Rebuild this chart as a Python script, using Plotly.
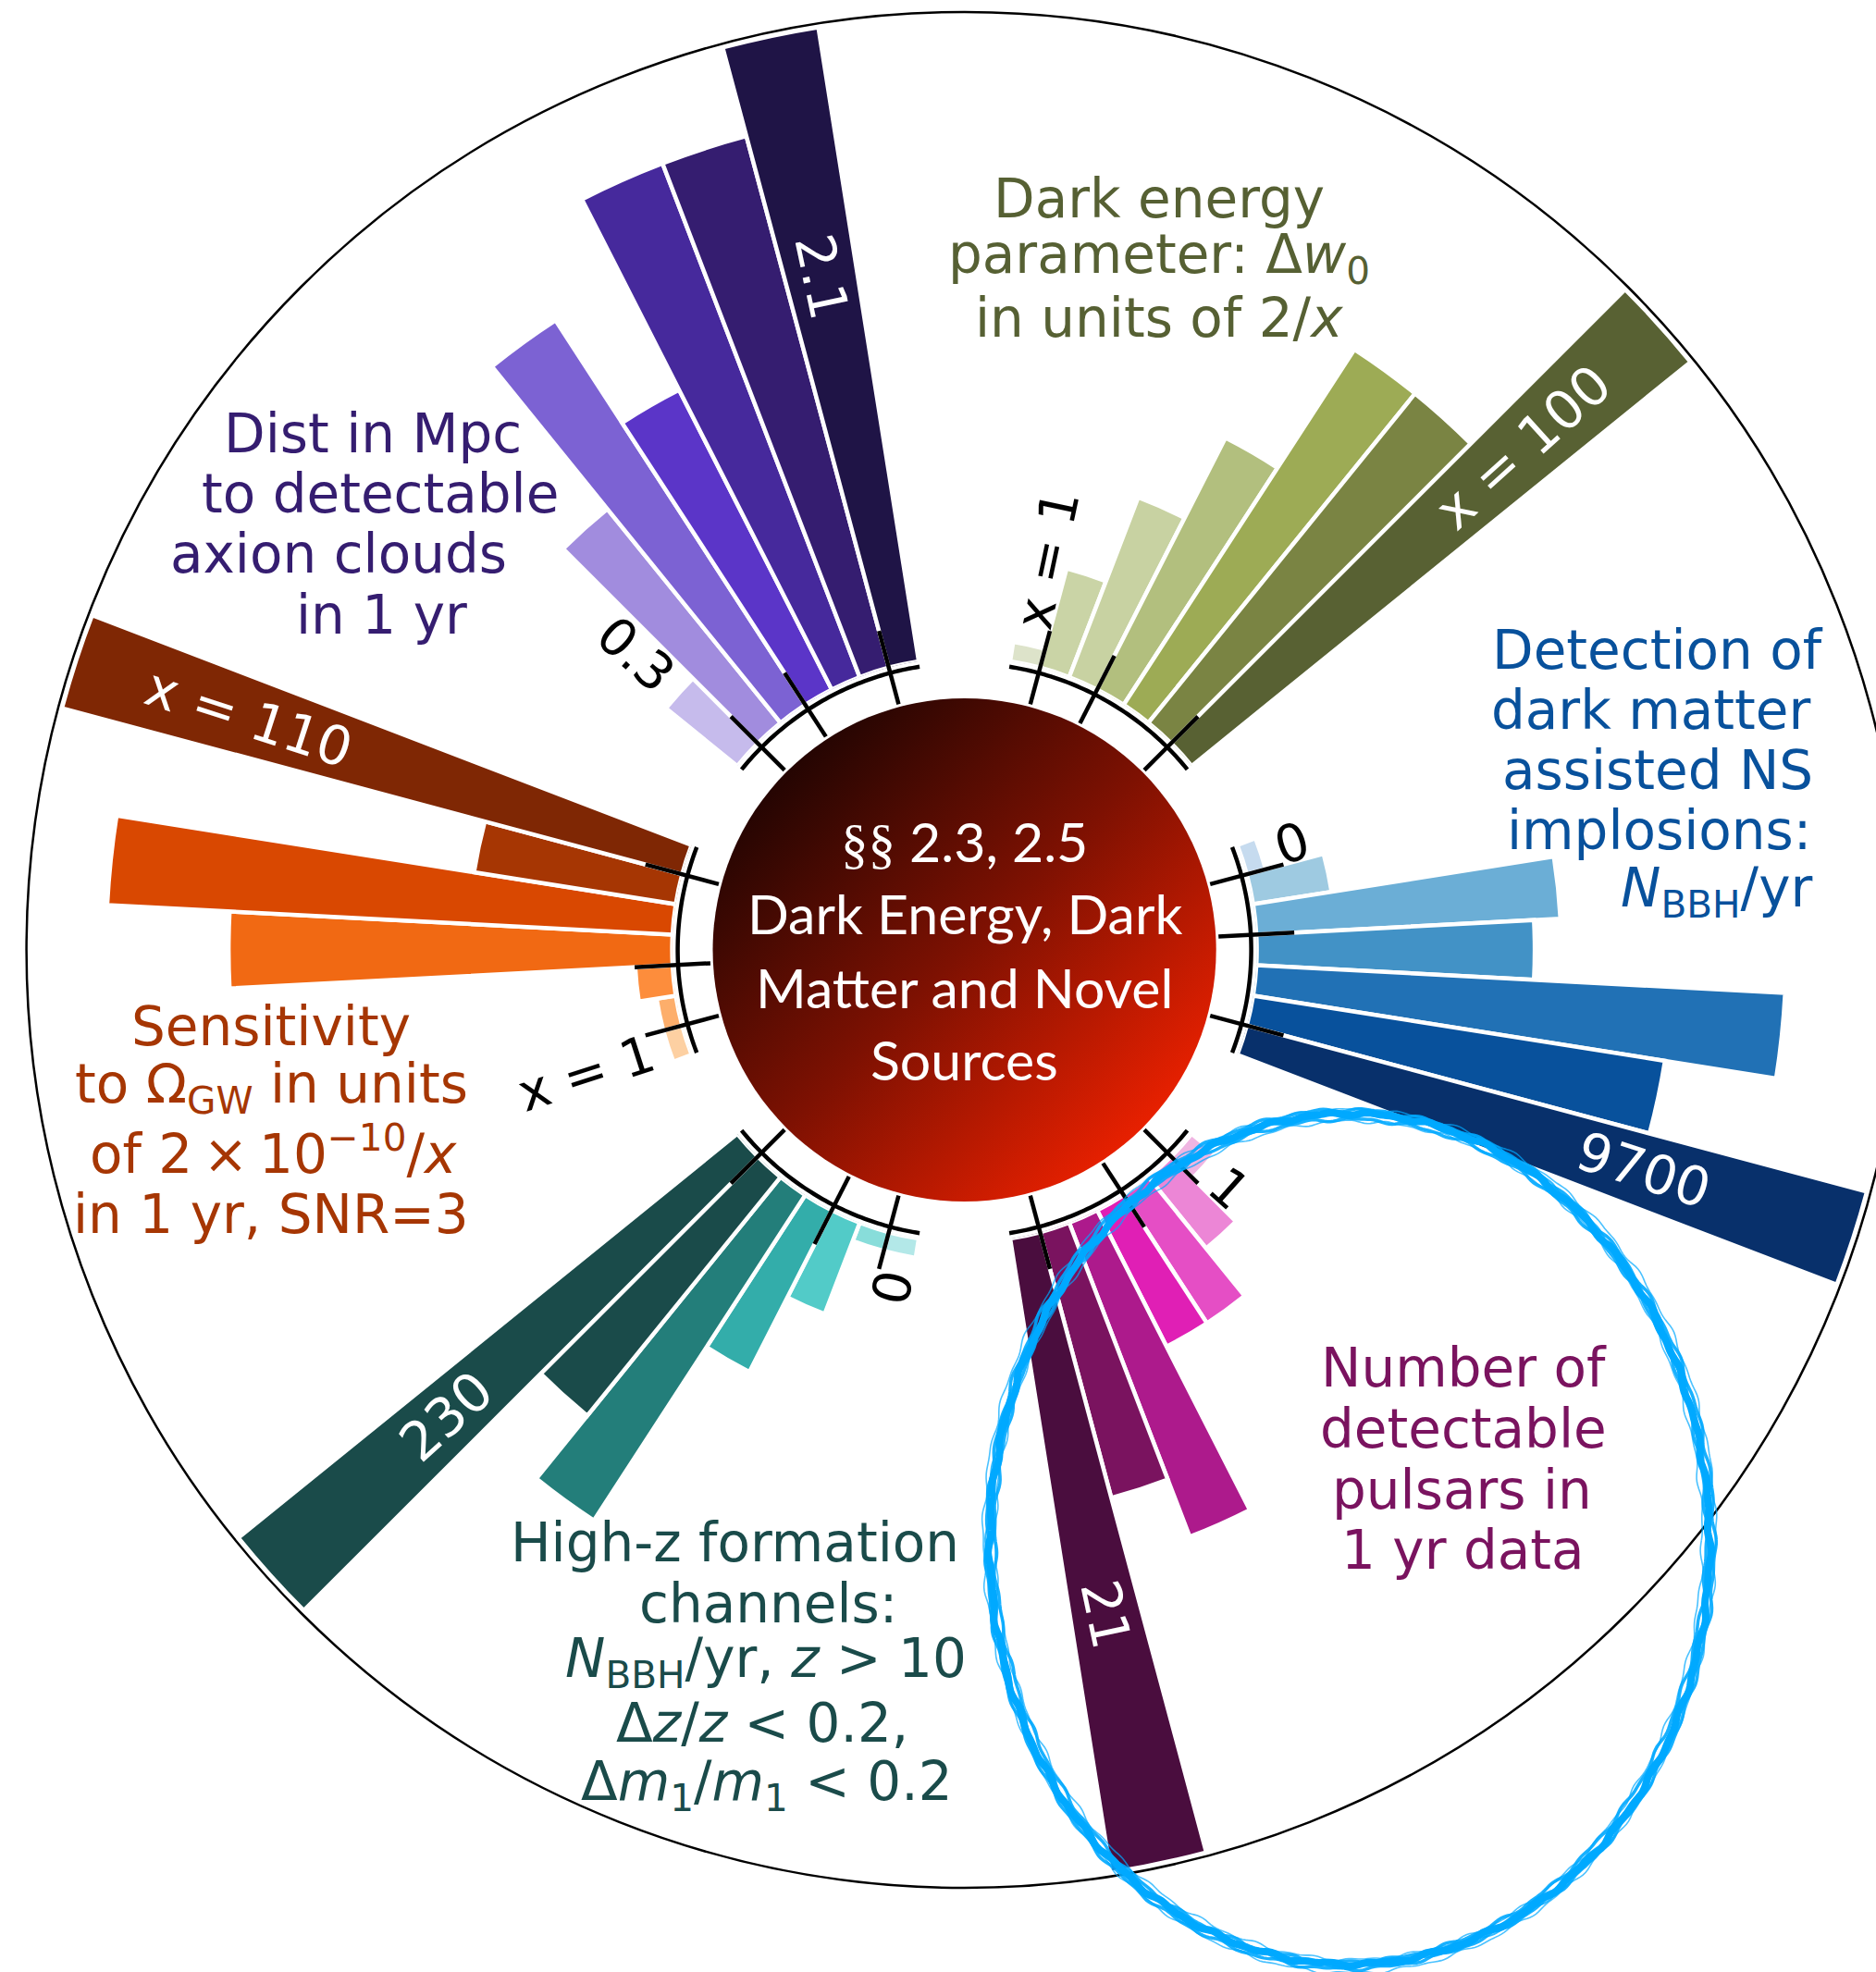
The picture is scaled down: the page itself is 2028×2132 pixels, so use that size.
import math
import base64
import numpy as np
import plotly.graph_objects as go

# ---------------------------------------------------------------------------
# Data: seven detector configurations per science case (weakest -> strongest)
# ---------------------------------------------------------------------------
ns_implosions_per_yr = [0, 1200, 4600, 4200, 8000, 6300, 9700]
dark_energy_x = [1, 16, 30, 44, 66, 66, 100]
axion_dist_mpc = [0.3, 0.9, 1.5, 1.1, 1.8, 1.8, 2.1]
omega_gw_x = [1, 2, 6.4, 76, 97, 35, 110]
highz_nbbh_per_yr = [0, 5, 35, 65, 139, 110, 230]
pulsars_1yr = [1, 3, 5, 5, 11, 9, 21]

sector_values = [ns_implosions_per_yr, dark_energy_x, axion_dist_mpc,
                 omega_gw_x, highz_nbbh_per_yr, pulsars_1yr]
sector_centres = [0, 60, 120, 180, 240, 300]
value_prefix = ["", "x = ", "", "x = ", "", ""]

sector_titles = [
    ["Detection of", "dark matter", "assisted NS", "implosions:",
     "<i>N</i><sub>BBH</sub>/yr"],
    ["Dark energy", "parameter: Δ<i>w</i><sub>0</sub>", "in units of 2/<i>x</i>"],
    ["Dist in Mpc", "to detectable", "axion clouds", "in 1 yr"],
    ["Sensitivity", "to Ω<sub>GW</sub> in units",
     "of 2\u2009×\u200910<sup>−10</sup>/<i>x</i>", "in 1 yr, SNR=3"],
    ["High-z formation", "channels:",
     "<i>N</i><sub>BBH</sub>/yr, <i>z</i> &gt; 10",
     "Δ<i>z</i>/<i>z</i> &lt; 0.2,",
     "Δ<i>m</i><sub>1</sub>/<i>m</i><sub>1</sub> &lt; 0.2"],
    ["Number of", "detectable", "pulsars in", "1 yr data"],
]
centre_lines = ['<span style="font-family:Liberation Serif">§§</span> 2.3, 2.5',
                "Dark Energy, Dark", "Matter and Novel", "Sources"]

# ---------------------------------------------------------------------------
# Styling
# ---------------------------------------------------------------------------
sector_colours = [
    ["#c6dbef", "#9ecae1", "#6baed6", "#4292c6", "#2171b5", "#08519c", "#08306b"],
    ["#dde3ca", "#cad4a6", "#c8d2a2", "#b2bf7e", "#9dab55", "#7a8443", "#586133"],
    ["#c6bbec", "#a18cde", "#7c62d3", "#5b35c8", "#46299c", "#351d70", "#1f1446"],
    ["#fdd0a2", "#fdae6b", "#fd8d3c", "#f16913", "#d94801", "#a63603", "#7f2704"],
    ["#b3e8e8", "#88ddda", "#52cbc8", "#33adaa", "#237e7a", "#1a4b4a", "#1a4b4a"],
    ["#f0b5e2", "#ec86d6", "#e54ec5", "#e01fb5", "#ad1a8c", "#7a135f", "#4a0d3e"],
]
title_colours = ["#08519c", "#566033", "#351d70", "#a63603", "#1a4b4a", "#7a135f"]
# anchor (px) for each title line: x centre, y middle
title_pos = [
    [(1792, 703), (1784, 768), (1792, 833), (1793, 898), (1855, 964)],
    [(1253, 215), (1253, 279), (1253, 344)],
    [(403, 469), (411, 534), (366, 599), (412, 665)],
    [(293, 1110), (293, 1176), (295, 1244), (293, 1313)],
    [(794, 1668), (830, 1734), (828, 1797), (824, 1863), (829, 1930)],
    [(1582, 1479), (1582, 1545), (1580, 1611), (1581, 1676)],
]
centre_y = [909, 987, 1067, 1145]

W, H = 2057, 2132          # figure size (right edge runs past the view)
VIEW_W = 2028
CX, CY = 1042.6, 1027.0    # pole of the polar axes, px
R_OUT = 1014.0             # outer rim
R_BASE = 316.0             # where bars start
R_DISC = 273.0             # central disc
R_ARC = 310.0              # per-sector reference arc
R_TICK = (275.0, 357.0)
R_HI_LABEL = 698.0         # inner end of the in-bar value label
BAR_MAX = 694.0            # radial length of the strongest bar in a sector
BAR_MIN = 21.0             # shortest stub drawn
SLOT = 6.0                 # degrees per bar

TITLE_FONT = "DejaVu Sans"
TITLE_SIZE = 58
LO_SIZE = 56
HI_SIZE = 58
ADV = {"0": .636, "1": .636, "2": .636, "3": .636, "4": .636, "5": .636,
       "6": .636, "7": .636, "8": .636, "9": .636, ".": .318, " ": .318,
       "x": .592, "=": .838}


def text_len(s, size):
    return sum(ADV.get(c, .6) for c in s) * size


def bar_heights(vals):
    top = max(vals)
    return [max(BAR_MIN, BAR_MAX * v / top) for v in vals]


def polar_px(r, ang):
    a = math.radians(ang)
    return CX + r * math.cos(a), CY - r * math.sin(a)


def paper(px, py):
    return px / W, 1.0 - py / H


def radial_textangle(ang):
    a = ang % 360
    t = -a if math.cos(math.radians(a)) >= 0 else 180 - a
    return (t + 180) % 360 - 180


def fmt(v):
    return f"{v:g}"


fig = go.Figure()
annotations = []
shapes = []

for s, vals in enumerate(sector_values):
    c = sector_centres[s]
    thetas = [c + 3 * SLOT - SLOT * k for k in range(len(vals))]
    heights = bar_heights(vals)
    fig.add_trace(go.Barpolar(
        r=heights, theta=thetas, width=[SLOT] * len(vals), base=0,
        marker=dict(color=sector_colours[s], line=dict(color="white", width=4.5)),
        hoverinfo="skip", showlegend=False,
    ))

    # low-end label just beyond the weakest bar
    lo_txt = value_prefix[s] + fmt(vals[0])
    r_in = R_BASE + heights[0] + 18
    rc = r_in + text_len(lo_txt, LO_SIZE) / 2
    x, y = paper(*polar_px(rc, thetas[0]))
    annotations.append(dict(x=x, y=y, xref="paper", yref="paper", text=lo_txt,
                            showarrow=False, xanchor="center", yanchor="middle",
                            textangle=radial_textangle(thetas[0]),
                            font=dict(family=TITLE_FONT, size=LO_SIZE, color="black")))

    # high-end label inside the strongest bar
    hi_txt = value_prefix[s] + fmt(vals[-1])
    rc = R_HI_LABEL + text_len(hi_txt, HI_SIZE) / 2
    x, y = paper(*polar_px(rc, thetas[-1]))
    annotations.append(dict(x=x, y=y, xref="paper", yref="paper", text=hi_txt,
                            showarrow=False, xanchor="center", yanchor="middle",
                            textangle=radial_textangle(thetas[-1]),
                            font=dict(family=TITLE_FONT, size=HI_SIZE, color="white")))

    # reference arc with three ticks
    arc = np.linspace(c - 3.5 * SLOT, c + 3.5 * SLOT, 60)
    pts = [paper(*polar_px(R_ARC, a)) for a in arc]
    path = "M " + " L ".join(f"{p[0]:.5f},{p[1]:.5f}" for p in pts)
    shapes.append(dict(type="path", path=path, xref="paper", yref="paper",
                       line=dict(color="black", width=4.5), layer="above"))
    for ta in (c + 2.5 * SLOT, c + 0.5 * SLOT, c - 2.5 * SLOT):
        p0 = paper(*polar_px(R_TICK[0], ta))
        p1 = paper(*polar_px(R_TICK[1], ta))
        shapes.append(dict(type="line", x0=p0[0], y0=p0[1], x1=p1[0], y1=p1[1],
                           xref="paper", yref="paper",
                           line=dict(color="black", width=4.5), layer="above"))

    # sector title, one line at a time
    for line, (tx, ty) in zip(sector_titles[s], title_pos[s]):
        x, y = paper(tx, ty)
        annotations.append(dict(x=x, y=y, xref="paper", yref="paper", text=line,
                                showarrow=False, xanchor="center", yanchor="middle",
                                font=dict(family=TITLE_FONT, size=TITLE_SIZE,
                                          color=title_colours[s])))

# outer rim of the polar frame
rx0, ry1 = paper(CX - R_OUT, CY - R_OUT)
rx1, ry0 = paper(CX + R_OUT, CY + R_OUT)
shapes.append(dict(type="circle", xref="paper", yref="paper",
                   x0=rx0, x1=rx1, y0=ry0, y1=ry1,
                   line=dict(color="black", width=2.5), layer="above"))

# central disc with a diagonal dark-to-red gradient
svg = ('<svg xmlns="http://www.w3.org/2000/svg" width="600" height="600" '
       'viewBox="0 0 600 600"><defs><linearGradient id="g" x1="0.12" y1="0.12" '
       'x2="0.88" y2="0.88"><stop offset="0" stop-color="#1e0402"/>'
       '<stop offset="0.5" stop-color="#7e1102"/><stop offset="1" stop-color="#ef2100"/>'
       '</linearGradient></defs><circle cx="300" cy="300" r="299" fill="url(#g)"/></svg>')
disc_src = "data:image/svg+xml;base64," + base64.b64encode(svg.encode()).decode()
dx, dy = paper(CX - R_DISC, CY - R_DISC)
images = [dict(source=disc_src, xref="paper", yref="paper", x=dx, y=dy,
               sizex=2 * R_DISC / W, sizey=2 * R_DISC / H, xanchor="left",
               yanchor="top", sizing="stretch", layer="above")]

for line, ly in zip(centre_lines, centre_y):
    x, y = paper(CX, ly)
    annotations.append(dict(x=x, y=y, xref="paper", yref="paper", text=line,
                            showarrow=False, xanchor="center", yanchor="middle",
                            font=dict(family="Lato", size=59, color="white")))

# hand-drawn highlight ring around the pulsar sector (crayon-like strokes)
E_CX, E_CY, E_A, E_B = 1459.0, 1665.0, 389.0, 460.0
t = np.linspace(0, 2 * np.pi, 720)
strokes = [(0.0, 0.0, 8.0, 1.0), (4.5, 0.9, 3.5, 0.9), (-4.5, 2.1, 3.5, 0.9),
           (6.8, 3.3, 1.6, 0.7), (-6.8, 4.4, 1.6, 0.7), (2.0, 5.2, 2.0, 0.8),
           (-2.2, 0.4, 2.0, 0.8)]
for off, ph, wd, op in strokes:
    rr = (off + 1.3 * np.sin(41 * t + ph) + 0.9 * np.sin(73 * t + 2 * ph)
          + 1.2 * np.sin(3 * t + ph))
    xs = E_CX + (E_A + rr) * np.cos(t)
    ys = E_CY + (E_B + rr) * np.sin(t)
    pts = [paper(a, b) for a, b in zip(xs, ys)]
    path = "M " + " L ".join(f"{p[0]:.5f},{p[1]:.5f}" for p in pts)
    shapes.append(dict(type="path", path=path, xref="paper", yref="paper",
                       line=dict(color="#00a9ff", width=wd), opacity=op, layer="above"))

# polar frame: the pole sits at (CX, CY) with the rim at R_OUT
px0, px1 = (CX - R_OUT) / W, (CX + R_OUT) / W
py0, py1 = 1 - (CY + R_OUT) / H, 1 - (CY - R_OUT) / H
fig.update_layout(
    width=W, height=H,
    margin=dict(l=0, r=0, t=0, b=0, pad=0),
    paper_bgcolor="white", plot_bgcolor="white",
    font=dict(family=TITLE_FONT),
    showlegend=False,
    polar=dict(
        domain=dict(x=[max(px0, 0), min(px1, 1)], y=[max(py0, 0), min(py1, 1)]),
        hole=R_BASE / R_OUT,
        bgcolor="rgba(0,0,0,0)",
        radialaxis=dict(range=[0, R_OUT - R_BASE], visible=False),
        angularaxis=dict(rotation=0, direction="counterclockwise", showgrid=False,
                         showticklabels=False, ticks="", showline=False),
    ),
    annotations=annotations,
    shapes=shapes,
    images=images,
)

post = ("var gd=document.getElementById('{plot_id}');"
        "document.body.style.margin='0';"
        "gd.parentElement.style.width='" + str(VIEW_W) + "px';"
        "gd.parentElement.style.height='" + str(H) + "px';"
        "gd.parentElement.style.overflow='hidden';")
fig.write_html("out.html", post_script=post)
